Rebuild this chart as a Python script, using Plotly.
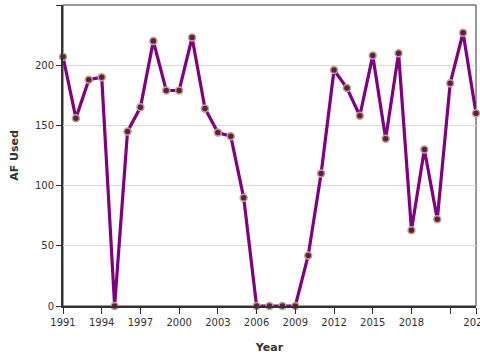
import plotly.graph_objects as go

years = list(range(1991, 2024))
af_used = [207, 156, 188, 190, 0, 145, 165, 220, 179, 179, 223, 164, 144, 141, 90,
           0, 0, 0, 0, 42, 110, 196, 181, 158, 208, 139, 210, 63, 130, 72, 185, 227, 160]
x_tickvals = [1991, 1994, 1997, 2000, 2003, 2006, 2009, 2012, 2015, 2018, 2021, 2023]
x_ticktext = ["1991", "1994", "1997", "2000", "2003", "2006", "2009", "2012", "2015", "2018", " ", "2023"]
y_tickvals = [0, 50, 100, 150, 200, 250]

fig = go.Figure()
fig.add_trace(go.Scatter(
    x=years, y=af_used, mode="lines+markers",
    line=dict(color="#800080", width=3.2),
    marker=dict(size=7, color="#6a1848", line=dict(color="#b8a78a", width=1.5)),
    cliponaxis=False,
))

fig.update_layout(
    width=480, height=360,
    margin=dict(l=63, r=4, t=5, b=54, autoexpand=False),
    paper_bgcolor="white", plot_bgcolor="white",
    font=dict(family="DejaVu Sans", size=10, color="#333"),
    showlegend=False,
    xaxis=dict(
        range=[1991, 2023], tickvals=x_tickvals, ticktext=x_ticktext,
        automargin=False, ticklabeloverflow="allow",
        showgrid=False, zeroline=False,
        showline=True, linecolor="#333", linewidth=2,
        ticks="outside", ticklen=6, tickcolor="#333", tickwidth=1,
        tickfont=dict(size=10, color="#333"),
        title=dict(text="<b>Year</b>", font=dict(size=11, color="#333"), standoff=16),
    ),
    yaxis=dict(
        range=[0, 250], tickvals=y_tickvals,
        automargin=False,
        showgrid=True, gridcolor="#d9d9d9", gridwidth=1, zeroline=False,
        showline=True, linecolor="#333", linewidth=2,
        ticks="outside", ticklen=5, tickcolor="#333", tickwidth=1,
        tickfont=dict(size=10, color="#333"),
        title=dict(text="<b>AF Used</b>", font=dict(size=11, color="#333"), standoff=14),
    ),
    shapes=[dict(type="rect", xref="paper", yref="paper", x0=0, x1=1, y0=0, y1=1,
                 line=dict(color="#333", width=1), fillcolor="rgba(0,0,0,0)", layer="below")],
)

fig.write_html("out.html", config={"displayModeBar": False},
               post_script="document.body.style.margin='0';document.body.style.overflow='hidden';")
